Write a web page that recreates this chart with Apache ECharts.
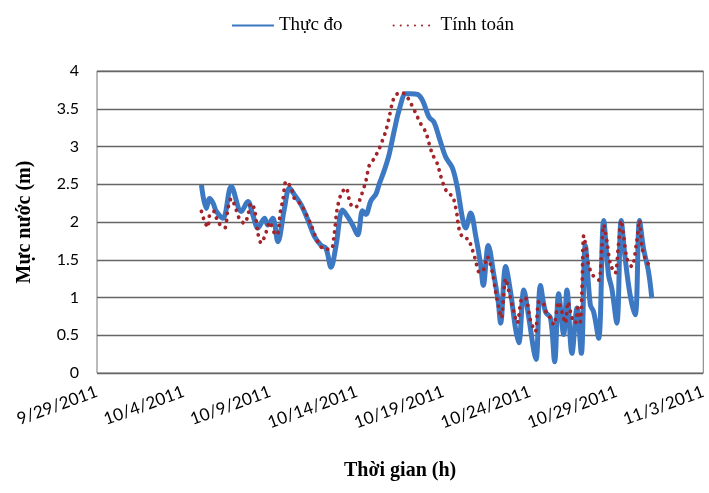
<!DOCTYPE html>
<html>
<head>
<meta charset="utf-8">
<script src="https://cdn.jsdelivr.net/npm/echarts@6/dist/echarts.min.js"></script>
<style>
  html, body { margin: 0; padding: 0; background: #fff; }
  #chart { width: 709px; height: 493px; }
</style>
</head>
<body>
<div id="chart"></div>
<script>
// x values are days counted from 9/29/2011
const startDate = new Date(2011, 8, 29)
const xTickStep = 5
const yTicks = [0, 0.5, 1, 1.5, 2, 2.5, 3, 3.5, 4]

// Thực đo (measured)
const measuredDays = [6.03, 6.31, 6.5, 6.7, 6.89, 7.27, 7.75, 8.33, 8.71, 9.0, 9.29, 9.67, 9.86, 10.15, 10.44, 10.82, 11.11, 11.4, 11.78, 12.17, 12.55, 12.94, 13.22, 13.51, 13.8, 14.18, 14.47, 14.76, 15.05, 15.33, 15.52, 15.81, 16.1, 16.29, 16.58, 16.87, 17.16, 17.44, 17.83, 18.12, 18.5, 18.79, 19.17, 19.46, 19.75, 20.13, 20.51, 20.8, 21.09, 21.28, 21.57, 21.86, 22.15, 22.3, 22.59, 22.91, 23.16, 23.3, 23.59, 23.87, 24.16, 24.35, 24.64, 24.93, 25.22, 25.35, 25.6, 25.89, 26.18, 26.42, 26.65, 26.94, 27.13, 27.42, 27.71, 27.96, 28.19, 28.48, 28.67, 28.96, 29.25, 29.53, 29.72, 30.01, 30.26, 30.49, 30.78, 31.07, 31.32, 31.55, 31.84, 32.03]
const measuredLevels = [2.49, 2.18, 2.31, 2.25, 2.14, 2.05, 2.47, 2.14, 2.27, 2.09, 1.92, 2.05, 1.96, 2.05, 1.74, 2.18, 2.45, 2.36, 2.23, 2.03, 1.81, 1.69, 1.65, 1.40, 1.69, 2.16, 2.07, 1.96, 1.83, 2.15, 2.1, 2.28, 2.37, 2.5, 2.68, 2.9, 3.21, 3.48, 3.7, 3.7, 3.69, 3.61, 3.39, 3.32, 3.12, 2.86, 2.72, 2.46, 2.06, 1.92, 2.12, 1.82, 1.43, 1.16, 1.69, 1.3, 0.95, 0.66, 1.41, 1.08, 0.59, 0.4, 1.1, 0.73, 0.29, 0.18, 1.16, 0.81, 0.73, 0.15, 1.05, 0.51, 1.1, 0.26, 0.86, 0.26, 1.69, 0.9, 0.81, 0.46, 2.02, 1.3, 1.12, 0.66, 2.02, 1.52, 1.03, 0.77, 2.02, 1.65, 1.34, 0.99]

// Tính toán (computed)
const computedDays = [6.03, 6.22, 6.41, 6.5, 6.75, 6.98, 7.37, 7.56, 7.75, 8.04, 8.23, 8.52, 8.71, 8.9, 9.1, 9.29, 9.48, 9.77, 9.96, 10.25, 10.4, 10.59, 10.73, 10.92, 11.21, 11.4, 11.78, 12.36, 12.74, 13.13, 13.51, 13.7, 13.85, 14.09, 14.38, 14.57, 14.76, 14.95, 15.24, 15.53, 15.72, 16.0, 16.29, 16.48, 16.68, 16.87, 17.06, 17.25, 17.54, 17.83, 18.12, 18.4, 18.69, 18.98, 19.17, 19.36, 19.65, 19.84, 20.03, 20.28, 20.51, 20.7, 20.8, 20.9, 21.19, 21.38, 21.67, 21.86, 22.05, 22.24, 22.53, 22.82, 23.01, 23.2, 23.34, 23.59, 23.78, 24.06, 24.26, 24.54, 24.74, 25.02, 25.31, 25.5, 25.7, 25.98, 26.18, 26.37, 26.65, 26.84, 27.04, 27.19, 27.42, 27.62, 27.75, 27.9, 28.0, 28.1, 28.28, 28.38, 28.61, 28.96, 29.15, 29.25, 29.44, 29.63, 29.91, 30.1, 30.26, 30.4, 30.59, 30.87, 31.16, 31.32, 31.45, 31.64, 31.93]
const computedLevels = [2.14, 2.0, 1.93, 2.09, 2.14, 2.0, 1.92, 2.18, 2.31, 2.16, 2.04, 1.98, 2.09, 2.25, 2.16, 1.85, 1.72, 1.87, 2.0, 1.85, 1.83, 2.14, 2.29, 2.54, 2.45, 2.31, 2.23, 1.96, 1.74, 1.64, 1.64, 1.85, 2.15, 2.37, 2.45, 2.29, 2.2, 2.2, 2.34, 2.55, 2.75, 2.84, 2.97, 3.08, 3.21, 3.39, 3.59, 3.68, 3.72, 3.68, 3.57, 3.44, 3.3, 3.19, 3.04, 2.9, 2.77, 2.61, 2.48, 2.37, 2.35, 2.2, 2.07, 1.91, 1.78, 1.78, 1.63, 1.49, 1.34, 1.34, 1.54, 1.34, 1.08, 0.86, 0.73, 1.25, 1.08, 0.81, 0.66, 0.99, 0.99, 0.7, 0.55, 0.94, 0.94, 0.77, 0.73, 0.64, 0.94, 0.81, 0.66, 0.94, 0.73, 0.66, 0.86, 0.68, 1.12, 1.82, 1.6, 1.43, 1.3, 1.23, 1.69, 1.96, 1.74, 1.45, 1.32, 1.69, 2.02, 1.82, 1.52, 1.41, 1.74, 2.02, 1.69, 1.52, 1.41]

const pairs = (xs, ys) => xs.map((x, i) => [x, ys[i]])

function dayLabel(v) {
  const d = new Date(startDate.getTime() + Math.round(v) * 86400000)
  return (d.getMonth() + 1) + "/" + d.getDate() + "/" + d.getFullYear()
}

const chart = echarts.init(document.getElementById("chart"))

chart.setOption({
  animation: false,
  legend: {
    left: 226,
    top: 11,
    itemWidth: 42,
    itemHeight: 12,
    itemGap: 50,
    itemStyle: { opacity: 0 },   // hide the marker dot, keep the line
    textStyle: { fontFamily: "Liberation Serif", fontSize: 19, color: "#000" },
    data: ["Thực đo", "Tính toán"],
  },
  grid: {
    left: 97, right: 4, top: 71, bottom: 120,
    show: true, borderColor: "#777", borderWidth: 1,
  },
  xAxis: {
    type: "value",
    min: 0, max: 35, interval: xTickStep,
    name: "Thời gian (h)",
    nameLocation: "middle",
    nameGap: 88,
    nameTextStyle: { fontFamily: "Liberation Serif", fontSize: 20, fontWeight: "bold", color: "#000" },
    axisLine: { show: false },
    axisTick: { show: false },
    splitLine: { show: false },
    axisLabel: {
      rotate: 20, margin: 18,
      fontFamily: "Lato", fontSize: 17, color: "#000",
      formatter: dayLabel,
    },
  },
  yAxis: {
    type: "value",
    min: yTicks[0], max: yTicks[yTicks.length - 1], interval: 0.5,
    name: "Mực nước (m)",
    nameLocation: "middle",
    nameGap: 62,
    nameRotate: 90,
    nameTextStyle: { fontFamily: "Liberation Serif", fontSize: 20, fontWeight: "bold", color: "#000" },
    axisLine: { show: false },
    axisTick: { show: false },
    axisLabel: { margin: 18, fontFamily: "Lato", fontSize: 16, color: "#000" },
    splitLine: { lineStyle: { color: "#666", width: 1.3 } },
  },
  series: [
    {
      name: "Thực đo",
      type: "line",
      data: pairs(measuredDays, measuredLevels),
      symbol: "none",
      smooth: 0.35,
      lineStyle: { color: "#3D79C2", width: 5 },
      itemStyle: { color: "#3D79C2" },
    },
    {
      name: "Tính toán",
      type: "line",
      data: pairs(computedDays, computedLevels),
      symbol: "none",
      smooth: 0.3,
      z: 3,
      lineStyle: { color: "#A3242B", width: 3.8, type: [0.1, 7], cap: "round" },
      itemStyle: { color: "#A3242B" },
    },
  ],
})
</script>
</body>
</html>
